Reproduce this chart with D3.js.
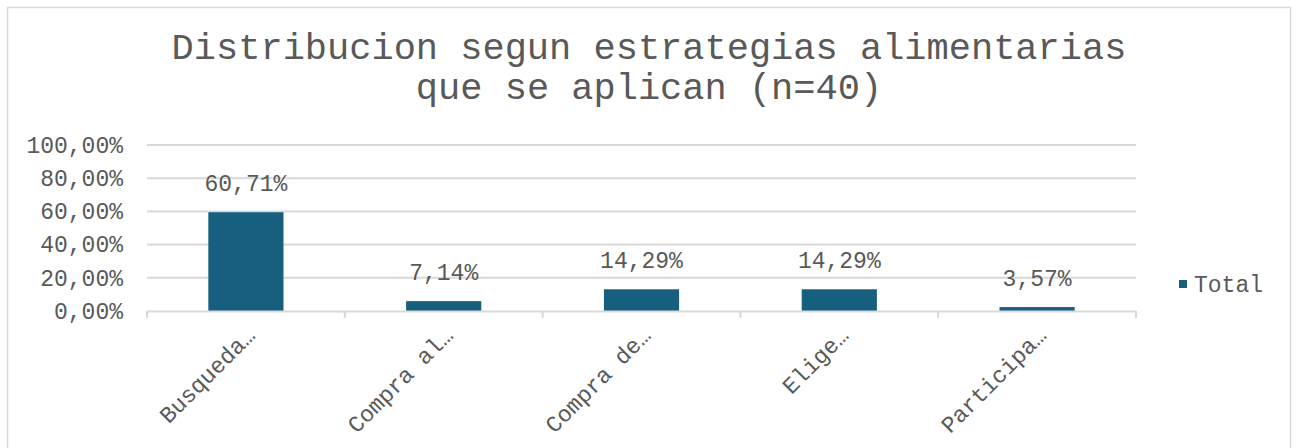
<!DOCTYPE html>
<html>
<head>
<meta charset="utf-8">
<script src="https://cdn.jsdelivr.net/npm/d3@7"></script>
<style>
  body { margin: 0; background: #fff; }
  text { font-family: "Courier New", "Liberation Mono", monospace; fill: #595959; }
</style>
</head>
<body>
<div id="chart"></div>
<script>
const categories = ["Busqueda…", "Compra al…", "Compra de…", "Elige…", "Participa…"];
const values = [60.71, 7.14, 14.29, 14.29, 3.57];
const yTicks = [0, 20, 40, 60, 80, 100];
const titleLines = ["Distribucion segun estrategias alimentarias", "que se aplican (n=40)"];
const seriesName = "Total";

const W = 1299, H = 448;
const margin = { top: 145, right: 163, bottom: 137, left: 147 };
const width = W - margin.left - margin.right;
const height = H - margin.top - margin.bottom;

const fmt = v => v.toFixed(2).replace(".", ",") + "%";

const svg = d3.select("#chart")
    .append("svg")
    .attr("width", W)
    .attr("height", H);

// chart border
svg.append("rect")
    .attr("x", 7.5).attr("y", 7.5)
    .attr("width", 1283).attr("height", 460)
    .attr("fill", "none")
    .attr("stroke", "#d9d9d9")
    .attr("stroke-width", 1.5);

svg.selectAll(".title")
    .data(titleLines)
    .enter()
    .append("text")
    .attr("class", "title")
    .attr("x", 649)
    .attr("y", (d, i) => 59 + i * 40)
    .attr("text-anchor", "middle")
    .style("font-size", "37px")
    .text(d => d);

const g = svg.append("g")
    .attr("transform", `translate(${margin.left},${margin.top})`);

const xScale = d3.scaleBand()
    .domain(categories)
    .range([0, width])
    .paddingInner(0.62)
    .paddingOuter(0.31);

const xBand = d3.scaleBand()
    .domain(categories)
    .range([0, width]);

const yScale = d3.scaleLinear()
    .domain([0, 100])
    .range([height, 0]);

// gridlines
g.selectAll(".grid")
    .data(yTicks.slice(1))
    .enter()
    .append("line")
    .attr("class", "grid")
    .attr("x1", 0).attr("x2", width)
    .attr("y1", d => yScale(d)).attr("y2", d => yScale(d))
    .attr("stroke", "#d9d9d9")
    .attr("stroke-width", 2);

// y axis labels
const yAxis = d3.axisLeft(yScale)
    .tickValues(yTicks)
    .tickFormat(fmt)
    .tickSize(0)
    .tickPadding(24);

const yg = g.append("g").call(yAxis);
yg.select(".domain").remove();
yg.selectAll("text")
    .style("font-size", "23px")
    .attr("dy", "0.32em");

// bars (end just above the axis line, as in the original)
g.selectAll(".bar")
    .data(values)
    .enter()
    .append("rect")
    .attr("class", "bar")
    .attr("x", (d, i) => xScale(categories[i]))
    .attr("y", d => yScale(d) + 2)
    .attr("width", xScale.bandwidth())
    .attr("height", d => Math.max(1.5, height - yScale(d) - 2))
    .attr("fill", "#175f7f");

// data labels
g.selectAll(".label")
    .data(values)
    .enter()
    .append("text")
    .attr("class", "label")
    .attr("x", (d, i) => xScale(categories[i]) + xScale.bandwidth() / 2)
    .attr("y", d => yScale(d) - 19)
    .attr("text-anchor", "middle")
    .style("font-size", "23px")
    .text(fmt);

// x axis
const xAxis = d3.axisBottom(xBand)
    .tickSize(0)
    .tickFormat("");

const xg = g.append("g")
    .attr("transform", `translate(0,${height})`)
    .call(xAxis);
xg.select(".domain")
    .attr("stroke", "#d9d9d9")
    .attr("stroke-width", 2);

g.selectAll(".xtick")
    .data(d3.range(categories.length + 1))
    .enter()
    .append("line")
    .attr("class", "xtick")
    .attr("x1", i => i * xBand.bandwidth())
    .attr("x2", i => i * xBand.bandwidth())
    .attr("y1", height)
    .attr("y2", height + 7)
    .attr("stroke", "#d9d9d9")
    .attr("stroke-width", 2);

g.selectAll(".xlabel")
    .data(categories)
    .enter()
    .append("text")
    .attr("class", "xlabel")
    .attr("text-anchor", "end")
    .attr("transform", d => `translate(${xBand(d) + xBand.bandwidth() / 2 + 5},${height + 20}) rotate(-45)`)
    .attr("dy", "0.35em")
    .style("font-size", "23px")
    .text(d => d);

// legend
const legend = svg.append("g")
    .attr("transform", "translate(1179,280)");
legend.append("rect")
    .attr("width", 8).attr("height", 8)
    .attr("fill", "#175f7f");
legend.append("text")
    .attr("x", 15).attr("y", 4)
    .attr("dy", "0.35em")
    .style("font-size", "23px")
    .text(seriesName);
</script>
</body>
</html>
